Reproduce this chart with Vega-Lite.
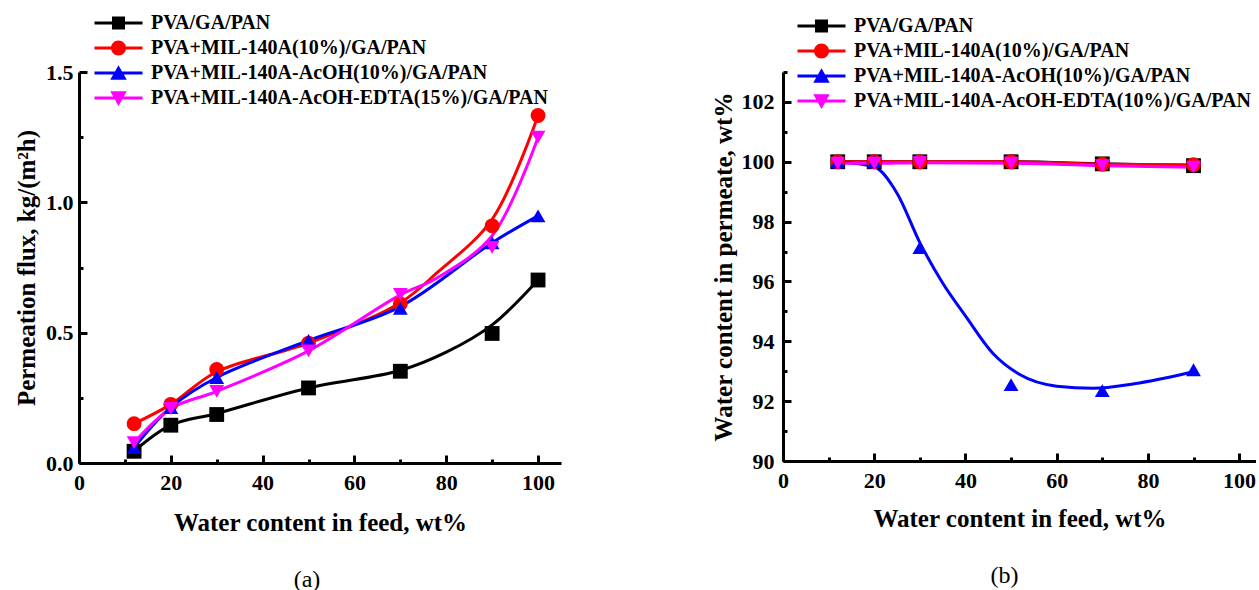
{
  "$schema": "https://vega.github.io/schema/vega-lite/v6.json",
  "padding": {"left": 14, "top": 13, "right": 0, "bottom": 0},
  "background": "white",
  "config": {
    "font": "Liberation Serif",
    "view": {"stroke": null},
    "axis": {
      "labelFont": "Liberation Serif", "labelFontSize": 22, "labelFontWeight": "bold", "labelColor": "black",
      "titleFont": "Liberation Serif", "titleFontSize": 25, "titleFontWeight": "bold", "titleColor": "black",
      "domainColor": "black", "domainWidth": 3, "tickColor": "black", "tickWidth": 3, "tickSize": -8,
      "grid": false, "labelFlush": false, "labelOverlap": false
    },
    "legend": {
      "labelFont": "Liberation Serif", "labelFontSize": 20, "labelFontWeight": "bold", "labelColor": "black",
      "symbolSize": 225, "symbolStrokeWidth": 0, "symbolOpacity": 1, "labelOffset": 22.5,
      "rowPadding": 5, "padding": 0, "labelLimit": 800
    }
  },
  "datasets": {
    "a": [
      {"s": "PVA/GA/PAN", "x": 12, "y": 0.045},
      {"s": "PVA/GA/PAN", "x": 20, "y": 0.145},
      {"s": "PVA/GA/PAN", "x": 30, "y": 0.186},
      {"s": "PVA/GA/PAN", "x": 50, "y": 0.288},
      {"s": "PVA/GA/PAN", "x": 70, "y": 0.352},
      {"s": "PVA/GA/PAN", "x": 90, "y": 0.497},
      {"s": "PVA/GA/PAN", "x": 100, "y": 0.702},
      {"s": "PVA+MIL-140A(10%)/GA/PAN", "x": 12, "y": 0.151},
      {"s": "PVA+MIL-140A(10%)/GA/PAN", "x": 20, "y": 0.225},
      {"s": "PVA+MIL-140A(10%)/GA/PAN", "x": 30, "y": 0.359},
      {"s": "PVA+MIL-140A(10%)/GA/PAN", "x": 50, "y": 0.46},
      {"s": "PVA+MIL-140A(10%)/GA/PAN", "x": 70, "y": 0.61},
      {"s": "PVA+MIL-140A(10%)/GA/PAN", "x": 90, "y": 0.91},
      {"s": "PVA+MIL-140A(10%)/GA/PAN", "x": 100, "y": 1.333},
      {"s": "PVA+MIL-140A-AcOH(10%)/GA/PAN", "x": 12, "y": 0.059},
      {"s": "PVA+MIL-140A-AcOH(10%)/GA/PAN", "x": 20, "y": 0.213},
      {"s": "PVA+MIL-140A-AcOH(10%)/GA/PAN", "x": 30, "y": 0.328},
      {"s": "PVA+MIL-140A-AcOH(10%)/GA/PAN", "x": 50, "y": 0.47},
      {"s": "PVA+MIL-140A-AcOH(10%)/GA/PAN", "x": 70, "y": 0.593},
      {"s": "PVA+MIL-140A-AcOH(10%)/GA/PAN", "x": 90, "y": 0.845},
      {"s": "PVA+MIL-140A-AcOH(10%)/GA/PAN", "x": 100, "y": 0.948},
      {"s": "PVA+MIL-140A-AcOH-EDTA(15%)/GA/PAN", "x": 12, "y": 0.078},
      {"s": "PVA+MIL-140A-AcOH-EDTA(15%)/GA/PAN", "x": 20, "y": 0.209},
      {"s": "PVA+MIL-140A-AcOH-EDTA(15%)/GA/PAN", "x": 30, "y": 0.275},
      {"s": "PVA+MIL-140A-AcOH-EDTA(15%)/GA/PAN", "x": 50, "y": 0.43},
      {"s": "PVA+MIL-140A-AcOH-EDTA(15%)/GA/PAN", "x": 70, "y": 0.647},
      {"s": "PVA+MIL-140A-AcOH-EDTA(15%)/GA/PAN", "x": 90, "y": 0.827},
      {"s": "PVA+MIL-140A-AcOH-EDTA(15%)/GA/PAN", "x": 100, "y": 1.25}
    ],
    "aline": [
      {"s": "PVA/GA/PAN", "x": 12, "y": 0.045},
      {"s": "PVA/GA/PAN", "x": 20, "y": 0.145},
      {"s": "PVA/GA/PAN", "x": 30, "y": 0.19},
      {"s": "PVA/GA/PAN", "x": 50, "y": 0.288},
      {"s": "PVA/GA/PAN", "x": 70, "y": 0.355},
      {"s": "PVA/GA/PAN", "x": 80, "y": 0.425},
      {"s": "PVA/GA/PAN", "x": 90, "y": 0.53},
      {"s": "PVA/GA/PAN", "x": 100, "y": 0.702},
      {"s": "PVA+MIL-140A(10%)/GA/PAN", "x": 12, "y": 0.151},
      {"s": "PVA+MIL-140A(10%)/GA/PAN", "x": 20, "y": 0.225},
      {"s": "PVA+MIL-140A(10%)/GA/PAN", "x": 30, "y": 0.35},
      {"s": "PVA+MIL-140A(10%)/GA/PAN", "x": 50, "y": 0.46},
      {"s": "PVA+MIL-140A(10%)/GA/PAN", "x": 70, "y": 0.615},
      {"s": "PVA+MIL-140A(10%)/GA/PAN", "x": 78, "y": 0.73},
      {"s": "PVA+MIL-140A(10%)/GA/PAN", "x": 90, "y": 0.935},
      {"s": "PVA+MIL-140A(10%)/GA/PAN", "x": 100, "y": 1.333},
      {"s": "PVA+MIL-140A-AcOH(10%)/GA/PAN", "x": 12, "y": 0.059},
      {"s": "PVA+MIL-140A-AcOH(10%)/GA/PAN", "x": 20, "y": 0.213},
      {"s": "PVA+MIL-140A-AcOH(10%)/GA/PAN", "x": 30, "y": 0.328},
      {"s": "PVA+MIL-140A-AcOH(10%)/GA/PAN", "x": 50, "y": 0.47},
      {"s": "PVA+MIL-140A-AcOH(10%)/GA/PAN", "x": 70, "y": 0.6},
      {"s": "PVA+MIL-140A-AcOH(10%)/GA/PAN", "x": 90, "y": 0.845},
      {"s": "PVA+MIL-140A-AcOH(10%)/GA/PAN", "x": 100, "y": 0.948},
      {"s": "PVA+MIL-140A-AcOH-EDTA(15%)/GA/PAN", "x": 12, "y": 0.078},
      {"s": "PVA+MIL-140A-AcOH-EDTA(15%)/GA/PAN", "x": 20, "y": 0.209},
      {"s": "PVA+MIL-140A-AcOH-EDTA(15%)/GA/PAN", "x": 30, "y": 0.275},
      {"s": "PVA+MIL-140A-AcOH-EDTA(15%)/GA/PAN", "x": 50, "y": 0.43},
      {"s": "PVA+MIL-140A-AcOH-EDTA(15%)/GA/PAN", "x": 70, "y": 0.645},
      {"s": "PVA+MIL-140A-AcOH-EDTA(15%)/GA/PAN", "x": 78, "y": 0.71},
      {"s": "PVA+MIL-140A-AcOH-EDTA(15%)/GA/PAN", "x": 90, "y": 0.872},
      {"s": "PVA+MIL-140A-AcOH-EDTA(15%)/GA/PAN", "x": 100, "y": 1.25}
    ],
    "b": [
      {"s": "PVA/GA/PAN", "x": 12, "y": 100},
      {"s": "PVA/GA/PAN", "x": 20, "y": 100},
      {"s": "PVA/GA/PAN", "x": 30, "y": 100},
      {"s": "PVA/GA/PAN", "x": 50, "y": 100},
      {"s": "PVA/GA/PAN", "x": 70, "y": 99.93},
      {"s": "PVA/GA/PAN", "x": 90, "y": 99.87},
      {"s": "PVA+MIL-140A(10%)/GA/PAN", "x": 12, "y": 100},
      {"s": "PVA+MIL-140A(10%)/GA/PAN", "x": 20, "y": 100},
      {"s": "PVA+MIL-140A(10%)/GA/PAN", "x": 30, "y": 100},
      {"s": "PVA+MIL-140A(10%)/GA/PAN", "x": 50, "y": 100},
      {"s": "PVA+MIL-140A(10%)/GA/PAN", "x": 70, "y": 99.92},
      {"s": "PVA+MIL-140A(10%)/GA/PAN", "x": 90, "y": 99.9},
      {"s": "PVA+MIL-140A-AcOH(10%)/GA/PAN", "x": 12, "y": 100},
      {"s": "PVA+MIL-140A-AcOH(10%)/GA/PAN", "x": 20, "y": 100},
      {"s": "PVA+MIL-140A-AcOH(10%)/GA/PAN", "x": 30, "y": 97.13},
      {"s": "PVA+MIL-140A-AcOH(10%)/GA/PAN", "x": 50, "y": 92.55},
      {"s": "PVA+MIL-140A-AcOH(10%)/GA/PAN", "x": 70, "y": 92.35},
      {"s": "PVA+MIL-140A-AcOH(10%)/GA/PAN", "x": 90, "y": 93.05},
      {"s": "PVA+MIL-140A-AcOH-EDTA(10%)/GA/PAN", "x": 12, "y": 99.95},
      {"s": "PVA+MIL-140A-AcOH-EDTA(10%)/GA/PAN", "x": 20, "y": 99.95},
      {"s": "PVA+MIL-140A-AcOH-EDTA(10%)/GA/PAN", "x": 30, "y": 99.97},
      {"s": "PVA+MIL-140A-AcOH-EDTA(10%)/GA/PAN", "x": 50, "y": 99.95},
      {"s": "PVA+MIL-140A-AcOH-EDTA(10%)/GA/PAN", "x": 70, "y": 99.87},
      {"s": "PVA+MIL-140A-AcOH-EDTA(10%)/GA/PAN", "x": 90, "y": 99.82}
    ],
    "bline": [
      {"s": "PVA/GA/PAN", "x": 12, "y": 100},
      {"s": "PVA/GA/PAN", "x": 20, "y": 100},
      {"s": "PVA/GA/PAN", "x": 30, "y": 100},
      {"s": "PVA/GA/PAN", "x": 50, "y": 100},
      {"s": "PVA/GA/PAN", "x": 70, "y": 99.93},
      {"s": "PVA/GA/PAN", "x": 90, "y": 99.87},
      {"s": "PVA+MIL-140A(10%)/GA/PAN", "x": 12, "y": 100},
      {"s": "PVA+MIL-140A(10%)/GA/PAN", "x": 20, "y": 100},
      {"s": "PVA+MIL-140A(10%)/GA/PAN", "x": 30, "y": 100},
      {"s": "PVA+MIL-140A(10%)/GA/PAN", "x": 50, "y": 100},
      {"s": "PVA+MIL-140A(10%)/GA/PAN", "x": 70, "y": 99.92},
      {"s": "PVA+MIL-140A(10%)/GA/PAN", "x": 90, "y": 99.9},
      {"s": "PVA+MIL-140A-AcOH(10%)/GA/PAN", "x": 12, "y": 100},
      {"s": "PVA+MIL-140A-AcOH(10%)/GA/PAN", "x": 20, "y": 99.83},
      {"s": "PVA+MIL-140A-AcOH(10%)/GA/PAN", "x": 25, "y": 98.95},
      {"s": "PVA+MIL-140A-AcOH(10%)/GA/PAN", "x": 30, "y": 97.3},
      {"s": "PVA+MIL-140A-AcOH(10%)/GA/PAN", "x": 35, "y": 95.95},
      {"s": "PVA+MIL-140A-AcOH(10%)/GA/PAN", "x": 40, "y": 94.85},
      {"s": "PVA+MIL-140A-AcOH(10%)/GA/PAN", "x": 46, "y": 93.6},
      {"s": "PVA+MIL-140A-AcOH(10%)/GA/PAN", "x": 52, "y": 92.88},
      {"s": "PVA+MIL-140A-AcOH(10%)/GA/PAN", "x": 60, "y": 92.5},
      {"s": "PVA+MIL-140A-AcOH(10%)/GA/PAN", "x": 68, "y": 92.43},
      {"s": "PVA+MIL-140A-AcOH(10%)/GA/PAN", "x": 77, "y": 92.58},
      {"s": "PVA+MIL-140A-AcOH(10%)/GA/PAN", "x": 90, "y": 92.98},
      {"s": "PVA+MIL-140A-AcOH-EDTA(10%)/GA/PAN", "x": 12, "y": 99.95},
      {"s": "PVA+MIL-140A-AcOH-EDTA(10%)/GA/PAN", "x": 20, "y": 99.95},
      {"s": "PVA+MIL-140A-AcOH-EDTA(10%)/GA/PAN", "x": 30, "y": 99.97},
      {"s": "PVA+MIL-140A-AcOH-EDTA(10%)/GA/PAN", "x": 50, "y": 99.95},
      {"s": "PVA+MIL-140A-AcOH-EDTA(10%)/GA/PAN", "x": 70, "y": 99.87},
      {"s": "PVA+MIL-140A-AcOH-EDTA(10%)/GA/PAN", "x": 90, "y": 99.82}
    ]
  },
  "spacing": 222,
  "bounds": "flush",
  "hconcat": [
    {
      "width": 482,
      "height": 391,
      "title": {"text": "(a)", "orient": "bottom", "frame": "group", "dx": -13, "offset": 33, "fontSize": 24, "fontWeight": "normal", "font": "Liberation Serif", "color": "black"},
      "layer": [
        {
          "data": {"name": "aline"},
          "mark": {"type": "line", "interpolate": "catmull-rom", "strokeWidth": 3},
          "encoding": {
            "x": {"field": "x", "type": "quantitative", "scale": {"domain": [0, 105], "nice": false, "zero": false},
                  "axis": {"values": [0, 20, 40, 60, 80, 100], "title": "Water content in feed, wt%", "labelFont": "Liberation Serif", "titleFont": "Liberation Serif", "labelPadding": 17, "titlePadding": 17, "orient": "bottom"}},
            "y": {"field": "y", "type": "quantitative", "scale": {"domain": [0, 1.5], "nice": false},
                  "axis": {"values": [0, 0.5, 1, 1.5], "format": ".1f", "title": "Permeation flux, kg/(m²h)", "labelFont": "Liberation Serif", "titleFont": "Liberation Serif", "labelPadding": 14, "titlePadding": 6, "orient": "left"}},
            "color": {"field": "s", "type": "nominal", "sort": null,
                      "scale": {"domain": ["PVA/GA/PAN", "PVA+MIL-140A(10%)/GA/PAN", "PVA+MIL-140A-AcOH(10%)/GA/PAN", "PVA+MIL-140A-AcOH-EDTA(15%)/GA/PAN"], "range": ["#000000", "#ff0000", "#0000ff", "#ff00ff"]},
                      "legend": null}
          }
        },
        {
          "data": {"name": "a"},
          "mark": {"type": "point", "filled": true, "opacity": 1, "size": 220, "strokeWidth": 0},
          "encoding": {
            "x": {"field": "x", "type": "quantitative", "scale": {"domain": [0, 105], "nice": false, "zero": false}, "axis": null},
            "y": {"field": "y", "type": "quantitative", "scale": {"domain": [0, 1.5], "nice": false}, "axis": null},
            "color": {"field": "s", "type": "nominal", "sort": null,
                      "scale": {"domain": ["PVA/GA/PAN", "PVA+MIL-140A(10%)/GA/PAN", "PVA+MIL-140A-AcOH(10%)/GA/PAN", "PVA+MIL-140A-AcOH-EDTA(15%)/GA/PAN"], "range": ["#000000", "#ff0000", "#0000ff", "#ff00ff"]},
                      "legend": null},
            "shape": {"field": "s", "type": "nominal", "sort": null,
                      "scale": {"domain": ["PVA/GA/PAN", "PVA+MIL-140A(10%)/GA/PAN", "PVA+MIL-140A-AcOH(10%)/GA/PAN", "PVA+MIL-140A-AcOH-EDTA(15%)/GA/PAN"], "range": ["square", "circle", "triangle-up", "triangle-down"]},
                      "legend": null}
          }
        },
        {
          "data": {"name": "a"},
          "transform": [{"filter": "false"}],
          "mark": {"type": "point", "filled": true, "opacity": 1, "size": 225, "strokeWidth": 0},
          "encoding": {
            "x": {"field": "x", "type": "quantitative", "scale": {"domain": [0, 105], "nice": false, "zero": false},
                  "axis": {"values": [10, 30, 50, 70, 90], "labels": false, "domain": false, "tickSize": -4, "title": null, "orient": "bottom"}},
            "y": {"field": "y", "type": "quantitative", "scale": {"domain": [0, 1.5], "nice": false},
                  "axis": {"values": [0.25, 0.75, 1.25], "labels": false, "domain": false, "tickSize": -4, "title": null, "orient": "left"}},
            "color": {"field": "s", "type": "nominal", "sort": null,
                      "scale": {"domain": ["PVA/GA/PAN", "PVA+MIL-140A(10%)/GA/PAN", "PVA+MIL-140A-AcOH(10%)/GA/PAN", "PVA+MIL-140A-AcOH-EDTA(15%)/GA/PAN"], "range": ["#000000", "#ff0000", "#0000ff", "#ff00ff"]},
                      "legend": {"orient": "none", "legendX": 29.5, "legendY": -59, "title": null}},
            "shape": {"field": "s", "type": "nominal", "sort": null,
                      "scale": {"domain": ["PVA/GA/PAN", "PVA+MIL-140A(10%)/GA/PAN", "PVA+MIL-140A-AcOH(10%)/GA/PAN", "PVA+MIL-140A-AcOH-EDTA(15%)/GA/PAN"],
                                "range": ["M-3.2,-0.2H3.2V0.2H-3.2Z M-0.87,-0.87H0.87V0.87H-0.87Z", "M-3.2,-0.2H3.2V0.2H-3.2Z M-1,0A1,1 0 1,1 1,0A1,1 0 1,1 -1,0Z", "M-3.2,-0.2H3.2V0.2H-3.2Z M0,-1.05L1.1,0.9L-1.1,0.9Z", "M-3.2,-0.2H3.2V0.2H-3.2Z M-1.1,-0.9L1.1,-0.9L0,1.05Z"]},
                      "legend": {"orient": "none", "legendX": 29.5, "legendY": -59, "title": null}}
          }
        }
      ],
      "resolve": {"scale": {"color": "independent", "shape": "independent"}, "axis": {"x": "independent", "y": "independent"}}
    },
    {
      "width": 473,
      "height": 389,
      "title": {"text": "(b)", "orient": "bottom", "frame": "group", "dx": -15, "offset": 33, "fontSize": 24, "fontWeight": "normal", "font": "Liberation Serif", "color": "black"},
      "layer": [
        {
          "data": {"name": "bline"},
          "mark": {"type": "line", "interpolate": "monotone", "strokeWidth": 3},
          "encoding": {
            "x": {"field": "x", "type": "quantitative", "scale": {"domain": [0, 103.7], "nice": false, "zero": false},
                  "axis": {"values": [0, 20, 40, 60, 80, 100], "title": "Water content in feed, wt%", "labelFont": "Liberation Serif", "titleFont": "Liberation Serif", "labelPadding": 17, "titlePadding": 15, "orient": "bottom"}},
            "y": {"field": "y", "type": "quantitative", "scale": {"domain": [90, 103], "nice": false, "zero": false},
                  "axis": {"values": [90, 92, 94, 96, 98, 100, 102], "title": "Water content in permeate, wt%", "labelFont": "Liberation Serif", "titleFont": "Liberation Serif", "labelPadding": 17, "titlePadding": 5, "orient": "left"}},
            "color": {"field": "s", "type": "nominal", "sort": null,
                      "scale": {"domain": ["PVA/GA/PAN", "PVA+MIL-140A(10%)/GA/PAN", "PVA+MIL-140A-AcOH(10%)/GA/PAN", "PVA+MIL-140A-AcOH-EDTA(10%)/GA/PAN"], "range": ["#000000", "#ff0000", "#0000ff", "#ff00ff"]},
                      "legend": null}
          }
        },
        {
          "data": {"name": "b"},
          "mark": {"type": "point", "filled": true, "opacity": 1, "size": 220, "strokeWidth": 0},
          "encoding": {
            "x": {"field": "x", "type": "quantitative", "scale": {"domain": [0, 103.7], "nice": false, "zero": false}, "axis": null},
            "y": {"field": "y", "type": "quantitative", "scale": {"domain": [90, 103], "nice": false, "zero": false}, "axis": null},
            "color": {"field": "s", "type": "nominal", "sort": null,
                      "scale": {"domain": ["PVA/GA/PAN", "PVA+MIL-140A(10%)/GA/PAN", "PVA+MIL-140A-AcOH(10%)/GA/PAN", "PVA+MIL-140A-AcOH-EDTA(10%)/GA/PAN"], "range": ["#000000", "#ff0000", "#0000ff", "#ff00ff"]},
                      "legend": null},
            "shape": {"field": "s", "type": "nominal", "sort": null,
                      "scale": {"domain": ["PVA/GA/PAN", "PVA+MIL-140A(10%)/GA/PAN", "PVA+MIL-140A-AcOH(10%)/GA/PAN", "PVA+MIL-140A-AcOH-EDTA(10%)/GA/PAN"], "range": ["square", "circle", "triangle-up", "triangle-down"]},
                      "legend": null}
          }
        },
        {
          "data": {"name": "b"},
          "transform": [{"filter": "false"}],
          "mark": {"type": "point", "filled": true, "opacity": 1, "size": 225, "strokeWidth": 0},
          "encoding": {
            "x": {"field": "x", "type": "quantitative", "scale": {"domain": [0, 103.7], "nice": false, "zero": false},
                  "axis": {"values": [10, 30, 50, 70, 90], "labels": false, "domain": false, "tickSize": -4, "title": null, "orient": "bottom"}},
            "y": {"field": "y", "type": "quantitative", "scale": {"domain": [90, 103], "nice": false, "zero": false},
                  "axis": {"values": [91, 93, 95, 97, 99, 101, 103], "labels": false, "domain": false, "tickSize": -4, "title": null, "orient": "left"}},
            "color": {"field": "s", "type": "nominal", "sort": null,
                      "scale": {"domain": ["PVA/GA/PAN", "PVA+MIL-140A(10%)/GA/PAN", "PVA+MIL-140A-AcOH(10%)/GA/PAN", "PVA+MIL-140A-AcOH-EDTA(10%)/GA/PAN"], "range": ["#000000", "#ff0000", "#0000ff", "#ff00ff"]},
                      "legend": {"orient": "none", "legendX": 28.5, "legendY": -56, "title": null}},
            "shape": {"field": "s", "type": "nominal", "sort": null,
                      "scale": {"domain": ["PVA/GA/PAN", "PVA+MIL-140A(10%)/GA/PAN", "PVA+MIL-140A-AcOH(10%)/GA/PAN", "PVA+MIL-140A-AcOH-EDTA(10%)/GA/PAN"],
                                "range": ["M-3.2,-0.2H3.2V0.2H-3.2Z M-0.87,-0.87H0.87V0.87H-0.87Z", "M-3.2,-0.2H3.2V0.2H-3.2Z M-1,0A1,1 0 1,1 1,0A1,1 0 1,1 -1,0Z", "M-3.2,-0.2H3.2V0.2H-3.2Z M0,-1.05L1.1,0.9L-1.1,0.9Z", "M-3.2,-0.2H3.2V0.2H-3.2Z M-1.1,-0.9L1.1,-0.9L0,1.05Z"]},
                      "legend": {"orient": "none", "legendX": 28.5, "legendY": -56, "title": null}}
          }
        }
      ],
      "resolve": {"scale": {"color": "independent", "shape": "independent"}, "axis": {"x": "independent", "y": "independent"}}
    }
  ]
}
